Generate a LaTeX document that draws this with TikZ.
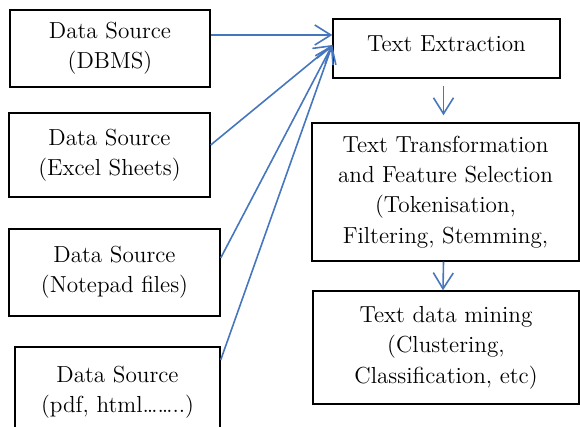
\documentclass[tikz,border=0pt]{standalone}
\usetikzlibrary{arrows.meta}
\definecolor{flowblue}{RGB}{70,118,190}
\tikzset{
  srcbox/.style={draw=black, line width=0.7pt, align=center, inner sep=0pt,
    font=\fontsize{11.6}{15.2}\selectfont},
  flow/.style={draw=flowblue, line width=0.8pt, -{Straight Barb[length=8pt,width=10pt]}}
}

\begin{document}
\begin{tikzpicture}[x=0.5pt,y=-0.5pt]
\useasboundingbox (0,0) rectangle (580,427);

% Data sources (left column)
\node[srcbox, minimum width=100pt, minimum height=38.5pt] (dbms) at (110,48.5) {Data Source\\(DBMS)};
\node[srcbox, minimum width=100.5pt, minimum height=42pt] (xls) at (109.5,155) {Data Source\\(Excel Sheets)};
\node[srcbox, minimum width=105.5pt, minimum height=43.5pt] (note) at (114.5,272.5) {Data Source\\(Notepad files)};
\node[srcbox, minimum width=102.5pt, minimum height=45pt] (pdf) at (117.5,392) {Data Source\\(pdf, html\dots\dots..)};

% Processing steps (right column)
\node[srcbox, minimum width=113.5pt, minimum height=29.5pt, text depth=5pt] (extract) at (446.5,48.5) {Text Extraction};
\node[srcbox, minimum width=133.5pt, minimum height=69pt] (transform) at (445.5,192)
  {Text Transformation\\and Feature Selection\\(Tokenisation,\\Filtering, Stemming,};
\node[srcbox, minimum width=133pt, minimum height=56.5pt] (mining) at (446,347.5)
  {Text data mining\\(Clustering,\\Classification, etc)};

% arrow heads meet at the left side of Text Extraction
\coordinate (tipA) at ([yshift=6.75pt]extract.west);
\coordinate (tipB) at ([yshift=1.75pt]extract.west);

\draw[flow] ([yshift=6.75pt]dbms.east) -- (tipA);
\draw[flow] ([yshift=5pt]xls.east) -- (tipB);
\draw[flow] ([yshift=7.25pt]note.east) -- (tipB);
\draw[flow] ([yshift=16pt]pdf.east) -- (tipB);

% down the right column
\draw[flow] ([xshift=-1.5pt,yshift=-3.5pt]extract.south) -- ([xshift=-1pt,yshift=3.5pt]transform.north);
\draw[flow] ([xshift=-1pt]transform.south) -- ([xshift=-1.5pt]mining.north);

\end{tikzpicture}
\end{document}
